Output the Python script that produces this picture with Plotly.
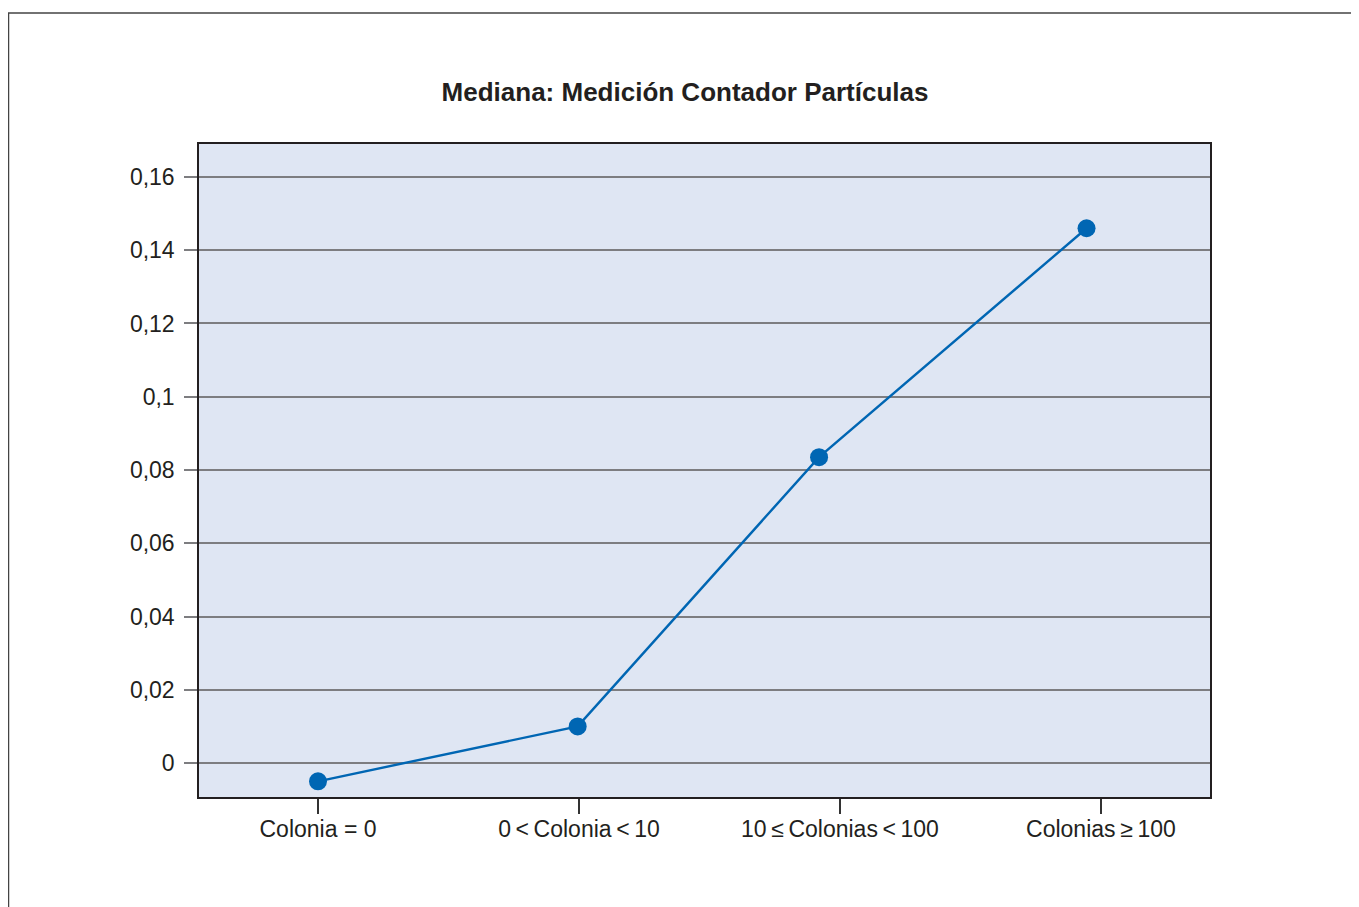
import plotly.graph_objects as go

categories = ["Colonia = 0", "0\u2009<\u2009Colonia\u2009<\u200910", "10\u2009≤\u2009Colonias\u2009<\u2009100", "Colonias\u2009≥\u2009100"]
tick_positions = [0, 1, 2, 3]
point_positions = [0, 0.995, 1.92, 2.945]
median_values = [-0.005, 0.010, 0.0835, 0.146]
y_ticks = [0, 0.02, 0.04, 0.06, 0.08, 0.10, 0.12, 0.14, 0.16]
y_tick_labels = ["0", "0,02", "0,04", "0,06", "0,08", "0,1", "0,12", "0,14", "0,16"]

FONT = "Arial, 'Liberation Sans', Helvetica, sans-serif"

W, H = 1351, 899  # page body has an 8px margin
L, T, PW, PH = 191, 136, 1011, 653

fig = go.Figure()
fig.add_trace(go.Scatter(
    x=point_positions, y=median_values, mode="lines+markers",
    line=dict(color="#0066b3", width=2.4),
    marker=dict(color="#0066b3", size=18),
    showlegend=False,
))

fig.update_layout(
    width=W, height=H,
    margin=dict(l=L, r=W - L - PW, t=T, b=H - T - PH),
    paper_bgcolor="white",
    plot_bgcolor="#dfe6f3",
    font=dict(family=FONT, color="#231f20", size=23),
    title=dict(text="<b>Mediana: Medición Contador Partículas</b>",
               x=(685 - 199) / PW, xref="paper", xanchor="center",
               y=1 - 84 / H, yref="container", yanchor="middle",
               font=dict(size=26, family=FONT, color="#231f20")),
    xaxis=dict(range=[-0.456, 3.418], tickvals=tick_positions, ticktext=categories,
               showgrid=False, zeroline=False, ticks="outside", ticklen=15,
               tickcolor="#333", tickwidth=1.5, showline=True, linecolor="#231f20",
               linewidth=1.5, mirror=True, tickfont=dict(size=23),
               ticklabelstandoff=-4),
    yaxis=dict(range=[-0.00928, 0.169], tickvals=y_ticks, ticktext=y_tick_labels,
               showgrid=True, gridcolor="#7d7d80", gridwidth=1.5, zeroline=False,
               ticks="outside", ticklen=13, tickcolor="#7d7d80", tickwidth=1.5,
               showline=True, linecolor="#231f20", linewidth=1.5, mirror=True,
               tickfont=dict(size=23), ticklabelstandoff=5),
)

fig.add_shape(type="rect", xref="paper", yref="paper",
              x0=(0.5 - L) / PW, x1=(1375 - L) / PW,
              y0=(T + PH - 925) / PH, y1=(T + PH - 5) / PH,
              line=dict(color="#444", width=1.5), fillcolor="rgba(0,0,0,0)", layer="below")

fig.write_html("out.html")
